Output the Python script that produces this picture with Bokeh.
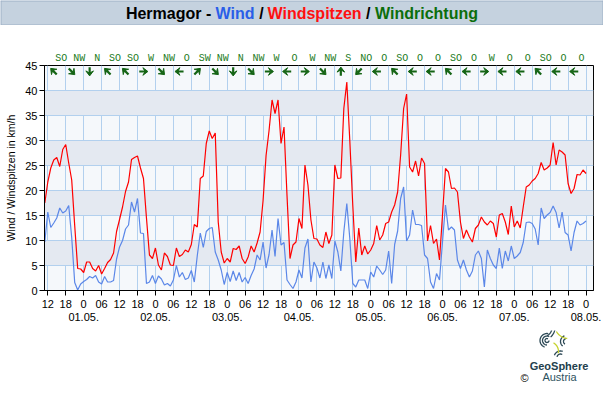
import math
from bokeh.plotting import figure
from bokeh.layouts import column, row
from bokeh.models import Range1d, FixedTicker, LinearAxis, Spacer
from bokeh.core.properties import value
from bokeh.embed import file_html
from bokeh.resources import INLINE

# ---------------- data ----------------
# hours since 30.04. 12:00 (hourly values)
hours = list(range(-1, 181))

gust = [
    17.5,
    21.7, 24.5, 26.1, 26.6, 24.8, 28.2, 29.2, 25.5, 22.1, 13.0,
    4.4, 4.3, 3.6, 5.7, 5.7, 4.4, 3.9, 5.0, 3.3, 4.4,
    5.6, 6.2, 7.5, 11.8, 14.2, 16.7, 19.8, 21.7, 26.2, 26.6,
    26.9, 24.5, 22.4, 14.5, 7.1, 6.4, 8.5, 5.1, 4.1, 7.5,
    6.8, 5.1, 5.0, 8.5, 6.8, 7.2, 8.1, 7.7, 9.2, 13.2,
    12.7, 22.4, 22.9, 29.4, 31.9, 30.4, 31.5, 13.7, 7.7, 5.5,
    6.4, 5.7, 8.4, 8.2, 8.9, 6.4, 5.4, 6.7, 8.9, 7.7,
    9.5, 11.7, 18.0, 27.0, 32.0, 38.1, 35.4, 38.1, 29.4, 32.7,
    19.0, 6.4, 9.1, 9.7, 14.4, 12.4, 25.1, 21.1, 14.1, 10.4,
    10.3, 9.1, 8.6, 11.7, 9.4, 11.1, 25.1, 22.4, 22.5, 36.4,
    41.7, 30.0, 17.0, 5.7, 12.5, 7.1, 8.9, 7.3, 8.1, 9.4,
    13.0, 10.1, 11.1, 13.4, 13.7, 15.7, 17.1, 19.7, 27.1, 36.4,
    39.3, 24.7, 23.7, 25.9, 22.9, 26.5, 25.4, 9.9, 13.0, 9.4,
    10.3, 6.1, 15.1, 24.4, 23.7, 20.4, 20.5, 19.7, 13.7, 10.4,
    12.1, 10.7, 9.7, 12.4, 13.1, 14.7, 13.7, 13.1, 13.9, 13.4,
    10.7, 15.1, 15.4, 13.7, 11.2, 16.9, 12.7, 13.9, 12.5, 16.7,
    20.7, 21.1, 21.9, 22.4, 23.4, 25.6, 24.1, 24.5, 25.1, 29.6,
    25.1, 28.1, 27.7, 27.1, 21.4, 19.4, 20.4, 23.2, 23.1, 24.1,
    23.4,
]

wind = [
    9.7,
    15.7, 12.6, 13.5, 14.5, 16.5, 15.5, 15.9, 17.0, 10.6, 1.6,
    0.1, 1.3, 1.8, 2.2, 2.8, 2.5, 3.0, 1.7, 1.3, 2.8,
    1.7, 1.7, 2.0, 6.3, 8.7, 10.0, 12.3, 13.1, 17.7, 15.7,
    18.4, 11.5, 11.4, 1.4, 1.7, 3.0, 1.4, 2.9, 2.3, 1.1,
    1.4, 0.9, 2.1, 5.0, 2.7, 3.6, 2.2, 2.5, 4.0, 1.7,
    7.0, 11.5, 8.6, 11.8, 12.4, 12.6, 7.7, 6.1, 4.1, 1.2,
    3.6, 1.8, 3.9, 2.0, 3.6, 1.7, 2.6, 1.4, 3.0, 4.3,
    7.1, 6.1, 9.7, 4.5, 7.2, 12.1, 6.8, 14.4, 9.1, 9.6,
    2.1, 1.2, 0.4, 1.7, 4.1, 2.5, 8.5, 10.3, 1.7, 5.7,
    4.5, 2.5, 5.7, 2.4, 5.1, 2.4, 9.9, 7.7, 3.9, 11.7,
    17.4, 10.4, 1.4, 0.7, 2.1, 2.1, 2.1, 0.4, 3.7, 2.7,
    4.9, 4.1, 3.2, 4.1, 7.9, 1.4, 9.2, 11.9, 18.4, 20.7,
    9.9, 11.1, 16.1, 13.2, 13.2, 13.0, 7.1, 6.4, 1.7, 0.4,
    3.4, 2.1, 9.7, 17.1, 12.1, 12.7, 12.1, 6.1, 4.4, 6.1,
    4.1, 2.7, 3.9, 7.1, 7.9, 6.4, 0.7, 8.1, 6.4, 5.1,
    4.4, 8.5, 4.4, 7.9, 5.9, 8.9, 6.4, 6.9, 7.6, 9.6,
    13.6, 13.7, 13.4, 12.3, 9.1, 16.5, 14.4, 15.1, 15.6, 16.9,
    15.6, 12.5, 15.7, 11.6, 11.1, 7.9, 11.6, 13.9, 13.1, 13.4,
    13.9,
]

dir_hours = [2 + 6 * k for k in range(30)]
directions = ["SO", "NW", "N", "SO", "SO", "W", "NW", "O", "SW", "NW",
              "N", "NW", "W", "O", "W", "NW", "S", "NO", "O", "SO",
              "O", "O", "SO", "O", "W", "O", "O", "SO", "O", "O"]

hour_ticks = list(range(0, 181, 6))
hour_labels = (["12", "18", "0", "06"] * 8)[:len(hour_ticks)]
date_ticks = list(range(12, 181, 24))
date_labels = ["01.05.", "02.05.", "03.05.", "04.05.", "05.05.", "06.05.", "07.05.", "08.05."]
y_ticks = list(range(0, 46, 5))

title_parts = ["Hermagor -", "Wind", "/", "Windspitzen", "/", "Windrichtung"]
title_colors = ["black", "#2a5ee8", "black", "#ff1010", "black", "#0b6e0b"]

# ---------------- layout constants ----------------
PAGE_W = 603
TITLE_H = 25
MAIN_H = 305
LOGO_H = 70
FL, FR, FT, FB = 44, 10, 40, 40
X0, X1 = -1.1, 182.5
Y0, Y1 = 0, 45
PXH = (PAGE_W - FL - FR) / (X1 - X0)
PXY = (MAIN_H - FT - FB) / (Y1 - Y0)

FONT = "Liberation Sans"
GREEN = "#146414"
GRID = "#b2d0ee"
BAND = "#c5d2df"


def no_align(fig):
    if "frame_align" in fig.properties():
        fig.frame_align = False


def strip(width, height, xr, yr):
    f = figure(width=width, height=height, x_range=xr, y_range=yr,
               output_backend="svg", toolbar_location=None,
               x_axis_location=None, y_axis_location=None, title=None,
               min_border=0, min_border_left=0, min_border_right=0,
               min_border_top=0, min_border_bottom=0)
    no_align(f)
    f.grid.visible = False
    f.outline_line_color = None
    return f


# ---------------- title strip ----------------
t = strip(PAGE_W, TITLE_H, Range1d(0, PAGE_W), Range1d(TITLE_H, 0))
t.background_fill_color = BAND
t.border_fill_color = BAND
t.multi_line([[0.5, 0.5, 602.5, 602.5], [0, 603]], [[0, 24.5, 24.5, 0], [0.5, 0.5]],
             line_color="#9db0c5", line_width=1)
t_x = [125.4, 215.0, 258.7, 267.0, 365.5, 374.5]
t.text(x=t_x, y=[13.0] * len(t_x), text=title_parts, text_color=title_colors,
       text_font=value(FONT), text_font_size="16px", text_font_style="bold",
       text_align="left", text_baseline="middle")

# ---------------- main chart ----------------
p = figure(width=PAGE_W, height=MAIN_H, x_range=Range1d(X0, X1), y_range=Range1d(Y0, Y1),
           output_backend="svg", toolbar_location=None, title=None,
           min_border_left=FL, min_border_right=FR, min_border_top=FT,
           min_border_bottom=FB)
no_align(p)
p.background_fill_color = "#f5f8fb"
p.border_fill_color = "white"
p.outline_line_color = "black"
p.outline_line_width = 1

xax = p.below[0]
xax.ticker = FixedTicker(ticks=hour_ticks)
xax.major_label_overrides = {tk: lb for tk, lb in zip(hour_ticks, hour_labels)}
xax.major_tick_out = 5
xax.major_tick_in = 0
xax.minor_tick_line_color = None
xax.major_label_standoff = 4
xax.major_label_text_font = FONT
xax.major_label_text_font_size = "11px"
xax.major_label_text_color = "black"
xax.axis_line_color = "black"
xax.major_tick_line_color = "black"

dax = LinearAxis(ticker=FixedTicker(ticks=date_ticks),
                 major_label_overrides={tk: lb for tk, lb in zip(date_ticks, date_labels)},
                 major_tick_in=0, major_tick_out=0, minor_tick_line_color=None,
                 major_tick_line_color=None, axis_line_color=None,
                 major_label_standoff=2, major_label_text_font=FONT,
                 major_label_text_font_size="11px", major_label_text_color="black")
p.add_layout(dax, "below")

# wind-direction text row as an axis above the frame
lab_ticks = [h + 2.5 for h in dir_hours]
tax = LinearAxis(ticker=FixedTicker(ticks=lab_ticks),
                 major_label_overrides={tk: d for tk, d in zip(lab_ticks, directions)},
                 major_tick_in=0, major_tick_out=0, minor_tick_line_color=None,
                 major_tick_line_color=None, axis_line_color=None,
                 major_label_standoff=2, major_label_text_font="Liberation Mono",
                 major_label_text_font_size="10px", major_label_text_color="#1a7a1a")
p.add_layout(tax, "above")

yax = p.left[0]
yax.ticker = FixedTicker(ticks=y_ticks)
yax.major_tick_out = 5
yax.major_tick_in = 0
yax.minor_tick_line_color = None
yax.major_label_standoff = 2
yax.major_label_text_font = FONT
yax.major_label_text_font_size = "11px"
yax.major_label_text_color = "black"
yax.axis_line_color = "black"
yax.axis_label = "Wind / Windspitzen in km/h"
yax.axis_label_text_font = FONT
yax.axis_label_text_font_size = "10.5px"
yax.axis_label_text_font_style = "normal"
yax.axis_label_text_color = "black"
yax.axis_label_standoff = 5

p.xgrid.grid_line_color = GRID
p.ygrid.grid_line_color = GRID
p.ygrid.band_fill_color = "#e4e9f1"
p.ygrid.band_fill_alpha = 1.0

p.line(hours, gust, line_color="#ff0000", line_width=1.2)
p.line(hours, wind, line_color="#5b87e8", line_width=1.2)

# wind direction arrows (geometry computed in screen px, converted to data units)
ang = {"N": -90, "NO": -135, "O": 180, "SO": 135, "S": 90, "SW": 45, "W": 0, "NW": -45}
yc = Y1 - 6.0 / PXY
head_xs, head_ys, sx0, sy0, sx1, sy1 = [], [], [], [], [], []
for h, d in zip(dir_hours, directions):
    th = math.radians(ang[d])
    ux, uy = math.cos(th), math.sin(th)
    nx, ny = -uy, ux

    def pt(a, b):
        return h + a / PXH, yc + b / PXY
    tip = pt(4.4 * ux, 4.4 * uy)
    b1 = pt(-0.6 * ux + 3.8 * nx, -0.6 * uy + 3.8 * ny)
    b2 = pt(-0.6 * ux - 3.8 * nx, -0.6 * uy - 3.8 * ny)
    notch = pt(1.6 * ux, 1.6 * uy)
    tail = pt(-4.2 * ux, -4.2 * uy)
    head_xs.append([tip[0], b1[0], notch[0], b2[0]])
    head_ys.append([tip[1], b1[1], notch[1], b2[1]])
    sx0.append(notch[0]); sy0.append(notch[1]); sx1.append(tail[0]); sy1.append(tail[1])
p.patches(head_xs, head_ys, fill_color=GREEN, line_color=GREEN, line_width=1)
p.segment(sx0, sy0, sx1, sy1, line_color=GREEN, line_width=2.2)

# ---------------- logo strip ----------------
LX0 = 515
LY0 = TITLE_H + MAIN_H
lg = strip(PAGE_W - LX0, LOGO_H, Range1d(LX0, PAGE_W), Range1d(LY0 + LOGO_H, LY0))
lg.background_fill_color = "white"
lg.border_fill_color = "white"
SLATE = "#2e4a57"
logo_arcs = [
    (546.5, 340.0, 2.0, 0, 300, SLATE), (546.5, 340.0, 4.5, 90, 300, SLATE),
    (546.5, 340.0, 7.0, 110, 280, SLATE),
    (542.0, 327.0, 9.5, -15, 60, SLATE), (542.0, 327.0, 12.5, -20, 50, SLATE),
    (566.0, 341.0, 3.0, 120, 260, SLATE), (566.0, 341.0, 6.0, 130, 250, SLATE),
    (560.0, 357.0, 3.5, 190, 300, SLATE), (560.0, 357.0, 6.5, 200, 290, SLATE),
    (568.0, 324.0, 14.0, 95, 150, "#c6d22f"), (548.0, 351.0, 10.0, -60, 10, "#c6d22f"),
]
axs, ays, acol = [], [], []
for (cx0, cy0, r, a0, a1, col) in logo_arcs:
    n = 16
    axs.append([cx0 + r * math.cos(math.radians(a0 + (a1 - a0) * i / n)) for i in range(n + 1)])
    ays.append([cy0 + r * math.sin(math.radians(a0 + (a1 - a0) * i / n)) for i in range(n + 1)])
    acol.append(col)
lg.multi_line(axs, ays, line_color=acol, line_width=1.3)
lg.text(x=[558.5, 559.0, 524.0], y=[365.5, 376.5, 377.0], text=["GeoSphere", "Austria", "©"],
        text_color=["#23404d", "#2e5260", "black"], text_font=value(FONT),
        text_font_size="11px", text_font_style=["bold", "normal", "normal"],
        text_align="center", text_baseline="middle")

layout = column(t, p, row(Spacer(width=LX0, height=LOGO_H), lg))
open("out.html", "w").write(file_html(layout, INLINE))
